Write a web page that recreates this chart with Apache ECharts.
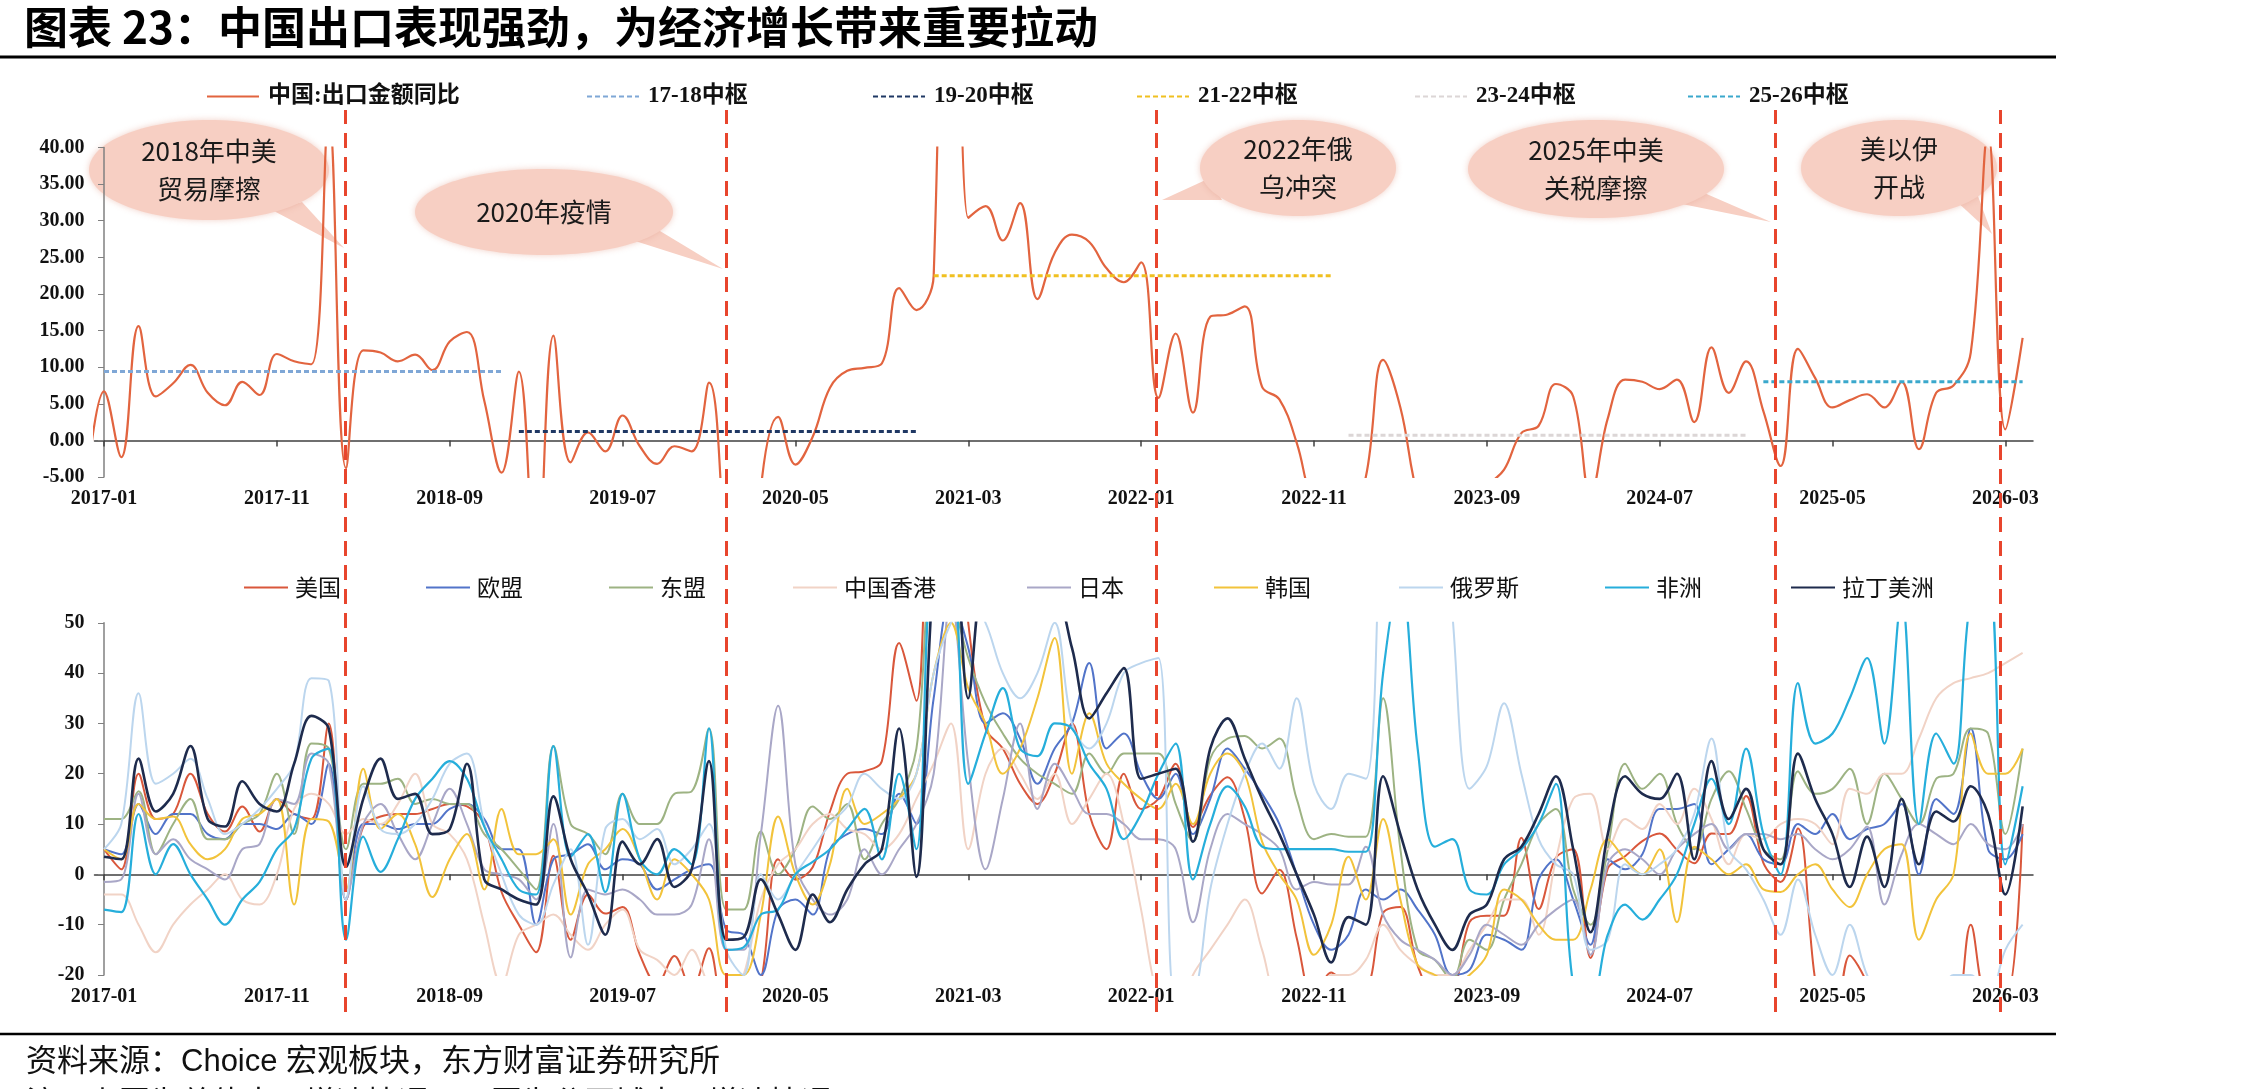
<!DOCTYPE html>
<html><head><meta charset="utf-8">
<script src="https://cdn.jsdelivr.net/npm/echarts@6/dist/echarts.min.js"></script>
<style>html,body{margin:0;padding:0;background:#fff}#c{width:2245px;height:1089px}</style>
</head><body><div id="c"></div>
<script>
// ---------- DATA ----------
// month index k: 2017-01 = 0 ; top series starts at k=-1 (2016-12)
const tickMonths = [0,10,20,30,40,50,60,70,80,90,100,110];
const chinaExport = [-6.1,
 6.7,-2.3,15.6,6.0,7.8,10.3,6.5,4.8,8.0,6.2,11.8,10.8,
 10.4,44.5,-3.8,12.3,12.0,10.8,11.7,9.6,13.5,14.8,5.4,-4.4,
 9.4,-20.7,14.3,-3.0,1.1,-1.5,3.4,-0.8,-3.2,-0.8,-1.5,7.9,
 -17.2,-40.6,-6.6,3.2,-3.3,0.5,7.2,9.5,9.9,10.5,20.8,17.8,
 22.5,154.9,30.4,32.0,27.3,32.4,19.3,25.6,28.1,27.1,23.5,21.6,
 24.3,5.8,14.6,3.8,16.9,17.2,18.3,7.3,5.6,-0.3,-8.7,-9.9,
 -10.5,-5.0,11.0,4.5,-7.5,-12.4,-14.5,-8.8,-6.2,-4.0,1.0,2.0,
 7.7,6.0,-7.5,3.0,8.3,8.0,7.0,8.3,2.5,12.7,6.5,10.8,
 4.0,-3.5,12.5,8.5,4.5,5.5,6.3,4.5,8.0,-1.2,6.5,7.5,
 12.0,42.0,1.5,14.0];
const pivotNames = ['17-18中枢','19-20中枢','21-22中枢','23-24中枢','25-26中枢'];
const pivotValues = [9.4, 1.2, 22.5, 0.7, 8.0];
const pivotStart = [0, 24, 48, 72, 96];
const pivotEnd = [23, 47, 71, 95, 111];
const eventMonths = [13.95, 36.0, 60.9, 96.7, 109.7];

// bottom chart: k = 0 .. 111 (2017-01 .. 2026-04)
const usa = [5,1,20,11,12,20,12,8.5,13.5,8.5,15,12,
 11,30,-5,9.5,11.5,12,12,13,14,13.5,9.8,-3.5,
 -10,-15.5,3.7,-13,-4,-7.8,-6.5,-16,-21.9,-16.2,-23,-14.7,
 -27.7,-27.7,-21.5,3,-1,1.4,12.5,20,20.5,22.5,46,34.5,
 87,87,50,29,25,18,14,20,30,12,5,20,
 13,15,22,9.4,15.7,19.3,11,-3.8,0.9,-12.6,-25.4,-19.5,
 -21.8,-21.8,-7.7,-6.5,-18.2,-23.7,-23.1,-9.5,-8.2,-8.2,7.3,-6.9,
 3.3,5,-16.6,1.2,3.6,6.6,8.1,4.9,2.2,8.1,8,15.6,
 2.3,-1.5,9.1,-21,-34.5,-16.1,-21.7,-33.1,-27,-25.2,-28.6,-30,
 -10,-25,-25,10];
const eu = [5,4,14,8,12,12,8,7,10,10,9,12,
 10,22,-5,10,10,9,10,10,13,14,11,5,
 5,-10,3,4,6,1,3,2,-3,-1,1,2,
 -11,-12,-20,-7,-5,-8,5,8,9,8,16,10,
 35,55,45,30,32,27,18,25,30,42,25,28,
 20,15,20,8,15,25,21,16,10,0,-10,-15,
 -12,-3,-5,-3,-7,-12,-20,-19,-12,-13,-15,-1,
 3,-5,-14,3,1,4,13,13,14,2,5,8,
 3,2,10,8,12,7,9,10,14,0,15,12,
 29,5,3,8];
const asean = [11,11,16.5,4,10,15,7,7,10,12,20,8,
 26,25,5,18,18,19,14,15,14,14,8,5,
 1,-3,25.5,10,8,4,16,10,10,16,16.5,29,
 -7,-7,8.5,0,5,13.5,11,14,3,10,15,25,
 60,55,43,34,28,23,20,18,16,24,20,24,
 24,24,14,6.5,23,27,27.5,25,27,15,7,8,
 7.5,7.5,35,5,-15,-17,-21,-13,-15,-5,2,10,
 13,-3,-10,5,22,17,20,10,5,15,20.5,13,
 5,3,20.5,16,17,21,10,20,15,10,19,20,
 29,28,8,25];
const hk = [-4,-4,-10,-15.5,-10,-6,-3,0,-5,-6,0,13,
 16,14,8,11,10,14,20,10,8,3,-10,-22,
 -12,-10,-8,-12,-15,-10,-7,-15,-17,-20,-15,-22,
 -25,-20,-5,2,5,10,12,9,8,5,8,15,
 22,30,5,20,25,20,15,20,10,15,20,10,
 -7,-25,-30,-20,-15,-10,-5,-15,-25,-25,-25,-20,
 -20,-17,-10,-15,-18,-20,-20,-15,-10,-5,-5,-12,
 3,15,16,5,11,9,14,10,17,11,2,8,
 7,10,11,10,6,17,16,20,20,27,35,38,
 39,40,42,44];
const japan = [-1.5,-1,16,4,7,3,1,-1,5,6,15,14,
 24,22,-5,10,14,8,3,10,17,10,1,0,
 -1,-5,10,-16.5,-3,-4,-3,-5,-8,-8,-6,7,
 -15,-15,8,33.5,2,-5,-8,-5,5,0,5,10,
 20,55,22,1,15,30,13,22,17,12,12,10,
 7,7,5,-9.5,5,12,10,8,5,-3,-1.5,-2,
 -2,5.5,-8,-13,-15,-17,-20,-16,-10,-12,-14,-10,
 -7,-5,-16,2,5,3,0,5,8,10,5,8,
 8,7,8,5,3,5,9.5,-6,4,10,8,6,
 10,6,5,10];
const korea = [5,3,14,11,11.5,6,3,5,11,12,15,-6,
 11,10.5,-3,21,9,12,6,-4.5,3,8,-3,13,
 4,4,7,-8,2,5,9,3,-5,3,0,-5,
 -20,-20,-8,11.5,0,-6,2,17,10,12,15,20,
 40,50,37,30,20,25,35,47,20,32,22,18,
 15,13,18,10,20,24,20,6.5,0,-5,-16,-10,
 3.5,-5,11,-5,-18,-20,-22,-20,-16,-3,-5,-10,
 -13,-13,-3,7,3,0,5,-9.5,5.5,3,0,2,
 -3,-3.5,0,2,-3,-6.5,0,5,6,-13,-5,0,
 28,20,20,25];
const russia = [5,10,36,18,20,23,15,8,10,13,17,22,
 39,38.5,-5,17.5,9,8,10,15,22,24,10,0,
 -8,-10,-2,5,-14,9,11,7,9,2,5,10,
 -15,-20,0,-5,0,5,10,13.5,20,17,15,20,
 40,50,55,50,40,35,40,50,30,25,30,40,
 42,43,-26,-25,-3,10,20,26,21,35,17.9,13,
 20,19,91,153,75,90,52,17,21.5,34,20,7,
 2,0,-15,-13,2,0,2,5,12,27,5,1,
 -5,-12,-1,-12,-20,-10,-20,-25,-22,-23,-25,-20,
 -20,-25,-15,-10];
const africa = [-7,-7.5,12,0,6,0,-5,-10,-5,-1.5,5,9,
 23,25,-13,7.5,0.5,7,15,19,22.5,19,9.5,3,
 -3,-4,25.5,3.5,8,-3.5,16,3,0,5,2,29,
 -15,-14.5,-8,-7,0,2.5,5,9,13,3,20,5,
 60,60,18,28,37,25,23.5,30,29,22,17,7,
 12,20,26,-1,10,17.5,13.5,5.5,5,5,5,5,
 4.5,4.5,40,60,25,5.5,7,-3,-4,2,5,10,
 18,-22,-25,-12,-6,-9,-5,0,10,19,10,25,
 8,0,38,26,28,35,43,26,55,10,28,22,
 55,60,2,17.5];
const latam = [3.5,3,23,12.5,16,25.5,11,9.5,18.5,14,12.5,22,
 31.5,29,1.5,15,23,15,16,8,9,22,-1,-3,
 -5,-6,15.5,3,-4,-12,6.5,2,7,-2.5,1,22.5,
 -13,-12.5,-1,-8,-15,-4,-9.5,-3,2,5,29,-0.5,
 60,80,35,60,55,60,55,55,45,31,36,41,
 19,20,21,6.5,25,31,23,15,8,0,-8,-17.5,
 -8.5,-10,19.5,8,-3,-10,-15,-8,-6,3,5.5,12,
 19.5,5,-11.5,8,19.5,16,15,20,3,22.5,11,17,
 5,2,24,15,8,-2.5,7.5,-2.5,15,2,12.5,10.5,
 17.5,12,-4,13.5];
const regionNames = ['美国','欧盟','东盟','中国香港','日本','韩国','俄罗斯','非洲','拉丁美洲'];
const regionValues = [usa, eu, asean, hk, japan, korea, russia, africa, latam];

// ---------- STYLE ----------
const regionColors = ['#d9573b','#5274c9','#9db383','#f1d3c6','#a9a7c7','#f2c33b','#bcd6ee','#26aedb','#1e2b4d'];
const regionWidths = [2,2,2,2,2,2,2,2.2,2.6];
const pivotColors = ['#7fa7d6','#1f3864','#f0c020','#dcd6d6','#3aa8cc'];
const topLegendLeft = [206,586,872,1136,1414,1687];
const botLegendLeft = [243,425,608,792,1026,1213,1398,1604,1790];
const serif = "'Liberation Serif','Noto Sans CJK SC',serif";
const cjk = "'Noto Sans CJK SC',sans-serif";

function monthLabel(k){
  const y = 2017 + Math.floor(k/12);
  const m = ((k%12)+12)%12 + 1;
  return y + '-' + (m<10?'0':'') + m;
}
const xMin = -0.55, xMax = 111.6;
const L = 94.5, R = 212;

function xLine(gi){
  return {type:'value', gridIndex:gi, min:xMin, max:xMax, position:'bottom',
    axisLine:{show:true, onZero:true, lineStyle:{color:'#404040', width:1.5}},
    axisTick:{show:true, customValues:tickMonths, length:6, lineStyle:{color:'#404040', width:1.5}},
    axisLabel:{show:false}, splitLine:{show:false}};
}
function xLab(gi){
  return {type:'value', gridIndex:gi, min:xMin, max:xMax, position:'bottom',
    axisLine:{show:false, onZero:false}, axisTick:{show:false},
    axisLabel:{show:true, customValues:tickMonths, formatter:v=>monthLabel(Math.round(v)),
      fontFamily:serif, fontSize:20, fontWeight:'bold', color:'#111', margin:12},
    splitLine:{show:false}};
}

const series = [];
series.push({name:'中国:出口金额同比', type:'line', xAxisIndex:1, yAxisIndex:0, symbol:'none', legendIcon:'none',
  smooth:0.4, lineStyle:{color:'#e2643f', width:2.2}, itemStyle:{color:'#e2643f'},
  data: chinaExport.map((v,i)=>[i-1, v]), z:3});
pivotNames.forEach((n,j)=>{
  const d=[]; for(let k=pivotStart[j];k<=pivotEnd[j];k++) d.push([k,pivotValues[j]]);
  series.push({name:n, type:'line', xAxisIndex:1, yAxisIndex:0, symbol:'none',
    lineStyle:{color:pivotColors[j], width:3, type:[5,3]}, itemStyle:{color:pivotColors[j]}, data:d, z:4});
});
regionNames.forEach((n,j)=>{
  series.push({name:n, type:'line', xAxisIndex:3, yAxisIndex:1, symbol:'none', smooth:0.35,
    lineStyle:{color:regionColors[j], width:regionWidths[j]}, itemStyle:{color:regionColors[j]},
    data: regionValues[j].map((v,k)=>[k,v]), z:3});
});
series.push({type:'line', xAxisIndex:4, yAxisIndex:2, symbol:'none', data:[], silent:true,
  markLine:{silent:true, symbol:['none','none'], label:{show:false},
    lineStyle:{color:'#e8452d', width:3, type:[15,9]},
    data: eventMonths.map(x=>({xAxis:x}))}, z:6});

const topNames = ['中国:出口金额同比'].concat(pivotNames);
const legends = [];
topNames.forEach((n,j)=>legends.push({data:[n], left:topLegendLeft[j], top:85, padding:0,
  itemWidth:52, itemHeight:14, itemStyle:{opacity:0},
  textStyle:{fontFamily:serif, fontSize:23, fontWeight:'bold', color:'#111', padding:[0,0,0,4]}}));
regionNames.forEach((n,j)=>legends.push({data:[n], left:botLegendLeft[j], top:576, padding:0,
  itemWidth:44, itemHeight:14, itemStyle:{opacity:0},
  textStyle:{fontFamily:cjk, fontSize:23, color:'#111', padding:[0,0,0,2]}}));

function bubble(cx,cy,rx,ry,tail,text){
  const fill='#f7cfc3';
  return {type:'group', z:50, children:[
    {type:'polygon', shape:{points:tail}, style:{fill:fill}},
    {type:'ellipse', shape:{cx:cx,cy:cy,rx:rx,ry:ry}, style:{fill:fill, shadowBlur:6, shadowColor:'rgba(225,150,130,0.45)'}},
    {type:'text', x:cx, y:cy, style:{text:text, font:"26px 'Noto Sans CJK SC'", fill:'#1a1a1a',
      textAlign:'center', textVerticalAlign:'middle', lineHeight:38}}
  ]};
}

const option = {
  animation:false,
  backgroundColor:'#fff',
  title:[
    {text:'图表 23：中国出口表现强劲，为经济增长带来重要拉动', left:24, top:2, padding:0,
      textStyle:{fontFamily:cjk, fontSize:44, fontWeight:'bold', color:'#000', lineHeight:50}},
    {text:'资料来源：Choice 宏观板块，东方财富证券研究所', left:26, top:1043, padding:0,
      textStyle:{fontFamily:"'Liberation Sans','Noto Sans CJK SC',sans-serif", fontSize:31, fontWeight:'normal', color:'#111', lineHeight:38}},
    {text:'注：上图为总体出口增速情况，下图为分区域出口增速情况', left:26, top:1082, padding:0,
      textStyle:{fontFamily:cjk, fontSize:31, fontWeight:'normal', color:'#111', lineHeight:38}}
  ],
  legend: legends,
  grid:[
    {left:L, right:R, top:147.5, height:329.5},
    {left:L, right:R, top:622.8, height:352.2},
    {left:L, right:R, top:110, height:902}
  ],
  xAxis:[xLine(0), xLab(0), xLine(1), xLab(1),
    {type:'value', gridIndex:2, min:xMin, max:xMax, show:false}],
  yAxis:[
    {type:'value', gridIndex:0, min:-5, max:40, interval:5,
      axisLine:{show:true, lineStyle:{color:'#808080', width:1.5}},
      axisTick:{show:true, length:6, lineStyle:{color:'#808080'}},
      axisLabel:{formatter:v=>v.toFixed(2), fontFamily:serif, fontSize:20, fontWeight:'bold', color:'#111', margin:10},
      splitLine:{show:false}},
    {type:'value', gridIndex:1, min:-20, max:50, interval:10,
      axisLine:{show:true, lineStyle:{color:'#808080', width:1.5}},
      axisTick:{show:true, length:6, lineStyle:{color:'#808080'}},
      axisLabel:{fontFamily:serif, fontSize:20, fontWeight:'bold', color:'#111', margin:10},
      splitLine:{show:false}},
    {type:'value', gridIndex:2, min:0, max:1, show:false}
  ],
  series: series,
  graphic:[
    {type:'line', shape:{x1:0,y1:57,x2:2056,y2:57}, style:{stroke:'#000', lineWidth:3}, z:60},
    {type:'line', shape:{x1:0,y1:1034,x2:2056,y2:1034}, style:{stroke:'#000', lineWidth:2.5}, z:60},
    bubble(209,170,120,50,[[272,210],[302,202],[344,248]],'2018年中美\n贸易摩擦'),
    bubble(544,212,129,43,[[632,240],[655,228],[723,269]],'2020年疫情'),
    bubble(1298,168,98,48,[[1210,178],[1222,200],[1162,200]],'2022年俄\n乌冲突'),
    bubble(1596,169,128,49,[[1682,204],[1702,192],[1771,222]],'2025年中美\n关税摩擦'),
    bubble(1899,168,98,48,[[1955,200],[1975,188],[1992,234]],'美以伊\n开战')
  ]
};
const chart = echarts.init(document.getElementById('c'), null, {renderer:'canvas'});
chart.setOption(option);
</script>
</body></html>
